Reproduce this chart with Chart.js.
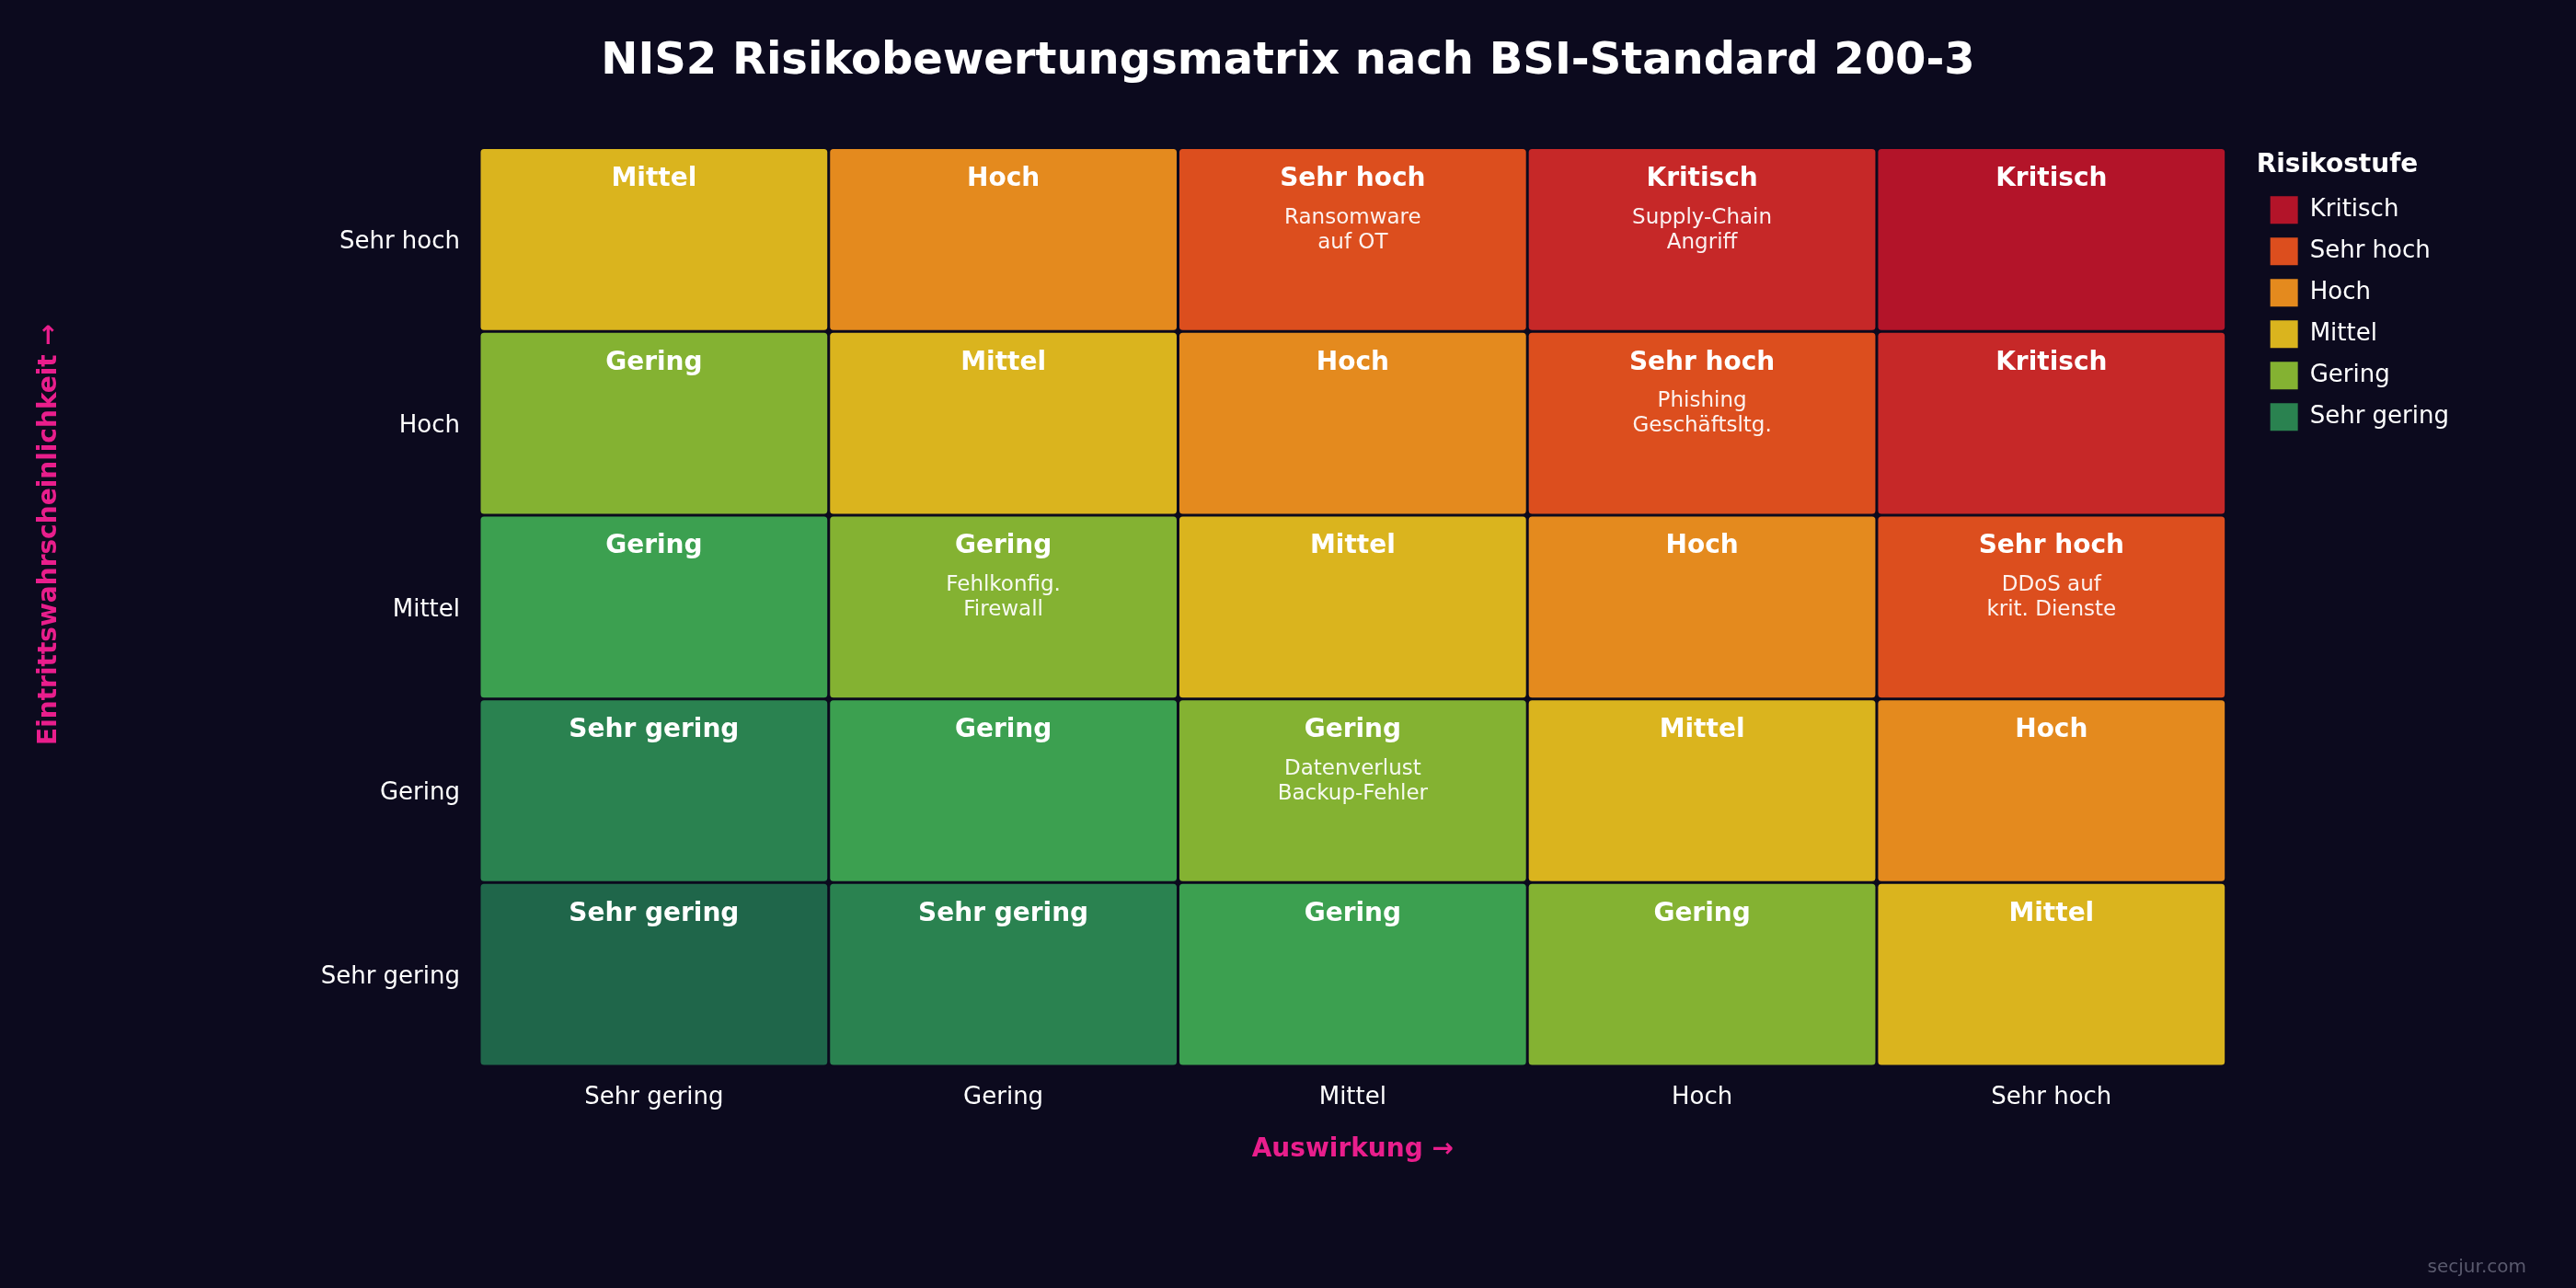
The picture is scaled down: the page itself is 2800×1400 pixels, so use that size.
<!DOCTYPE html>
<html>
<head>
<meta charset="utf-8">
<title>NIS2 Risikobewertungsmatrix</title>
<script src="https://cdn.jsdelivr.net/npm/chart.js@4.4.1/dist/chart.umd.min.js"></script>
<style>
  html, body { margin: 0; padding: 0; background: #0c0a1e; }
  canvas { display: block; }
</style>
</head>
<body>
<canvas id="matrix" width="2800" height="1400" style="width:2800px;height:1400px"></canvas>
<script>
// Achsen (Zeilen von unten nach oben)
const impact = ["Sehr gering", "Gering", "Mittel", "Hoch", "Sehr hoch"];
const likelihood = ["Sehr gering", "Gering", "Mittel", "Hoch", "Sehr hoch"];

// Risikostufe je Zelle, Zeile = Eintrittswahrscheinlichkeit (unten -> oben)
const riskLevel = [
  ["Sehr gering", "Sehr gering", "Gering", "Gering", "Mittel"],
  ["Sehr gering", "Gering", "Gering", "Mittel", "Hoch"],
  ["Gering", "Gering", "Mittel", "Hoch", "Sehr hoch"],
  ["Gering", "Mittel", "Hoch", "Sehr hoch", "Kritisch"],
  ["Mittel", "Hoch", "Sehr hoch", "Kritisch", "Kritisch"],
];

// Risikowert je Zelle (steuert die Farbabstufung)
const riskScore = [
  [2, 3, 4, 5, 6],
  [3, 4, 5, 6, 7],
  [4, 5, 6, 7, 8],
  [5, 6, 7, 8, 9],
  [6, 7, 8, 9, 10],
];

// Beispielszenarien
const scenarios = [
  ["", "", "", "", ""],
  ["", "", "Datenverlust\nBackup-Fehler", "", ""],
  ["", "Fehlkonfig.\nFirewall", "", "", "DDoS auf\nkrit. Dienste"],
  ["", "", "", "Phishing\nGeschäftsltg.", ""],
  ["", "", "Ransomware\nauf OT", "Supply-Chain\nAngriff", ""],
];

const legendLevels = ["Kritisch", "Sehr hoch", "Hoch", "Mittel", "Gering", "Sehr gering"];

const BG = "#0c0a1e";
const PINK = "#e91e8c";
const FONT = '"DejaVu Sans", "Liberation Sans", sans-serif';

const scoreColors = {
  2: "#1f664a",
  3: "#2a8250",
  4: "#3ca050",
  5: "#84b232",
  6: "#dab41e",
  7: "#e48a1e",
  8: "#dc4e1e",
  9: "#c62828",
  10: "#b31429",
};
const levelColors = {
  "Kritisch": "#b31429",
  "Sehr hoch": "#dc4e1e",
  "Hoch": "#e48a1e",
  "Mittel": "#dab41e",
  "Gering": "#84b232",
  "Sehr gering": "#2a8250",
};

Chart.defaults.font.family = FONT;
Chart.defaults.color = "#ffffff";

const background = {
  id: "background",
  beforeDraw(chart) {
    const ctx = chart.ctx;
    ctx.save();
    ctx.fillStyle = BG;
    ctx.fillRect(0, 0, chart.width, chart.height);
    ctx.restore();
  },
};

// Beschriftung in den Zellen
const cellText = {
  id: "cellText",
  afterDatasetsDraw(chart) {
    const ctx = chart.ctx;
    ctx.save();
    ctx.textAlign = "center";
    ctx.textBaseline = "middle";
    chart.data.datasets.forEach((ds, r) => {
      const meta = chart.getDatasetMeta(r);
      meta.data.forEach((bar, c) => {
        const top = Math.min(bar.y, bar.base);
        ctx.fillStyle = "#ffffff";
        ctx.font = "bold 28px " + FONT;
        ctx.fillText(riskLevel[r][c], bar.x, top + 34);
        if (scenarios[r][c]) {
          ctx.fillStyle = "rgba(255,255,255,0.93)";
          ctx.font = "23px " + FONT;
          scenarios[r][c].split("\n").forEach((line, k) => {
            ctx.fillText(line, bar.x, top + 76 + k * 27);
          });
        }
      });
    });
    ctx.restore();
  },
};

// y-Achsentitel und Quelle
const extras = {
  id: "extras",
  afterDraw(chart) {
    const ctx = chart.ctx;
    ctx.save();
    ctx.translate(54, 581);
    ctx.rotate(-Math.PI / 2);
    ctx.textAlign = "center";
    ctx.textBaseline = "middle";
    ctx.fillStyle = PINK;
    ctx.font = "bold 28px " + FONT;
    ctx.fillText("Eintrittswahrscheinlichkeit \u2192", 0, 0);
    ctx.restore();

    ctx.save();
    ctx.textAlign = "right";
    ctx.textBaseline = "middle";
    ctx.fillStyle = "#5a5a6e";
    ctx.font = "20px " + FONT;
    ctx.fillText("secjur.com", 2746, 1378);
    ctx.restore();
  },
};

const datasets = likelihood.map((lvl, r) => ({
  label: lvl,
  data: impact.map(() => 1),
  backgroundColor: riskScore[r].map((s) => scoreColors[s]),
  borderColor: BG,
  borderWidth: 1.5,
  borderSkipped: false,
  borderRadius: { topLeft: 5, topRight: 5, bottomLeft: 5, bottomRight: 5 },
  inflateAmount: 0,
  barPercentage: 1,
  categoryPercentage: 1,
}));

new Chart(document.getElementById("matrix"), {
  type: "bar",
  data: { labels: impact, datasets: datasets },
  options: {
    responsive: false,
    devicePixelRatio: 1,
    animation: false,
    events: [],
    layout: { padding: { top: 0, bottom: 0, left: 128, right: 128 } },
    plugins: {
      tooltip: { enabled: false },
      title: {
        display: true,
        text: "NIS2 Risikobewertungsmatrix nach BSI-Standard 200-3",
        color: "#ffffff",
        font: { size: 48, weight: "bold" },
        padding: { top: 39, bottom: 64 },
      },
      legend: {
        display: true,
        position: "right",
        align: "start",
        fullSize: false,
        title: {
          display: true,
          text: "Risikostufe",
          position: "start",
          color: "#ffffff",
          font: { size: 28, weight: "bold" },
          padding: { top: 5, bottom: -1 },
        },
        labels: {
          boxWidth: 30,
          boxHeight: 30,
          padding: 15,
          useBorderRadius: true,
          borderRadius: 4,
          color: "#ffffff",
          font: { size: 26 },
          generateLabels: () =>
            legendLevels.map((l) => ({
              text: l,
              fillStyle: levelColors[l],
              strokeStyle: levelColors[l],
              lineWidth: 0,
              fontColor: "#ffffff",
              hidden: false,
            })),
        },
      },
    },
    scales: {
      x: {
        stacked: true,
        grid: { display: false, drawTicks: false },
        border: { display: false },
        ticks: { color: "#ffffff", font: { size: 26 }, padding: 19 },
        title: {
          display: true,
          text: "Auswirkung \u2192",
          color: PINK,
          font: { size: 28, weight: "bold" },
          padding: { top: 0, bottom: 133 },
        },
        afterFit: (s) => { s.height = 241; },
      },
      y: {
        stacked: true,
        min: 0,
        max: 5,
        grid: { display: false, drawTicks: false },
        border: { display: false },
        afterBuildTicks: (s) => {
          s.ticks = likelihood.map((_, i) => ({ value: i + 0.5 }));
        },
        ticks: {
          color: "#ffffff",
          font: { size: 26 },
          padding: 21,
          labelOffset: 3,
          callback: (v) => likelihood[Math.floor(v)],
        },
        afterFit: (s) => { s.width = 393; },
      },
      gap: {
        type: "linear",
        position: "right",
        display: true,
        grid: { display: false, drawTicks: false },
        border: { display: false },
        ticks: { display: false },
        afterFit: (s) => { s.width = 33; },
      },
    },
  },
  plugins: [background, cellText, extras],
});
</script>
</body>
</html>
